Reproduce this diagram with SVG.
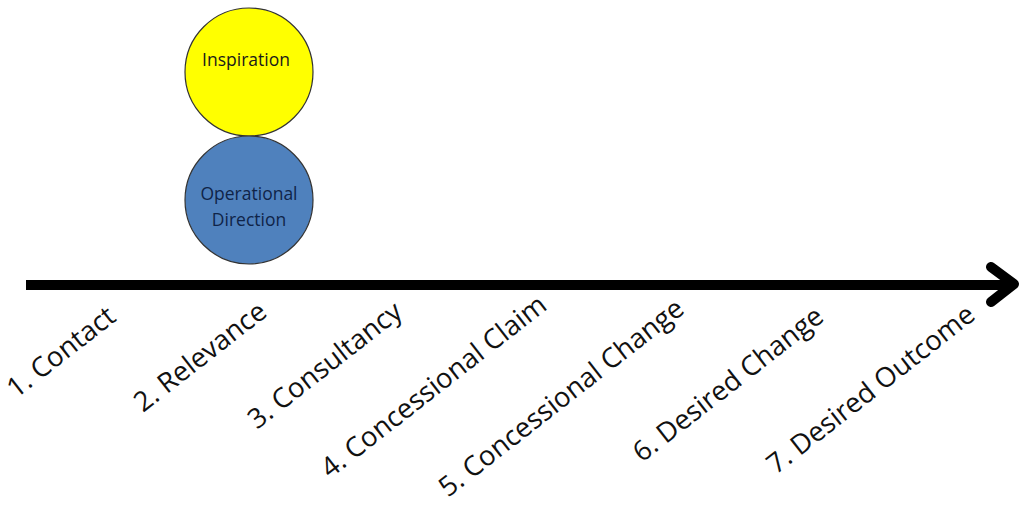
<svg xmlns="http://www.w3.org/2000/svg" width="1022" height="506" viewBox="0 0 1022 506">
<style>
.lbl{font-family:"Open Sans","Liberation Sans",sans-serif;font-size:27.5px;fill:#111}
.ct{font-family:"Open Sans","Liberation Sans",sans-serif;font-size:17.5px;text-anchor:middle}
</style>
<rect width="1022" height="506" fill="#fff"/>
<g id="connectors">
<line x1="26" y1="285" x2="1010" y2="285" stroke="#000" stroke-width="10"/>
<polyline points="991,267 1014,284 991,302" fill="none" stroke="#000" stroke-width="10" stroke-linecap="round" stroke-linejoin="round"/>
</g>
<g id="inspiration">
<circle cx="249" cy="72" r="64" fill="#FFFF00" stroke="#333" stroke-width="1.2"/>
<text class="ct" x="246" y="66" fill="#1a1a1a">Inspiration</text>
</g>
<g id="operational-direction">
<circle cx="249" cy="200" r="64" fill="#4F81BD" stroke="#333" stroke-width="1.2"/>
<text class="ct" x="249" y="200" fill="#0f2448">Operational</text>
<text class="ct" x="249" y="226" fill="#0f2448">Direction</text>
</g>
<g id="labels">
<text class="lbl" transform="translate(16,399) rotate(-38)">1. Contact</text>
<text class="lbl" transform="translate(143,413) rotate(-38)">2. Relevance</text>
<text class="lbl" transform="translate(257,430) rotate(-38)">3. Consultancy</text>
<text class="lbl" transform="translate(330,479) rotate(-38)">4. Concessional Claim</text>
<text class="lbl" transform="translate(448,498) rotate(-38)">5. Concessional Change</text>
<text class="lbl" transform="translate(642,463) rotate(-38)">6. Desired Change</text>
<text class="lbl" transform="translate(776,475) rotate(-38)">7. Desired Outcome</text>
</g>
</svg>
